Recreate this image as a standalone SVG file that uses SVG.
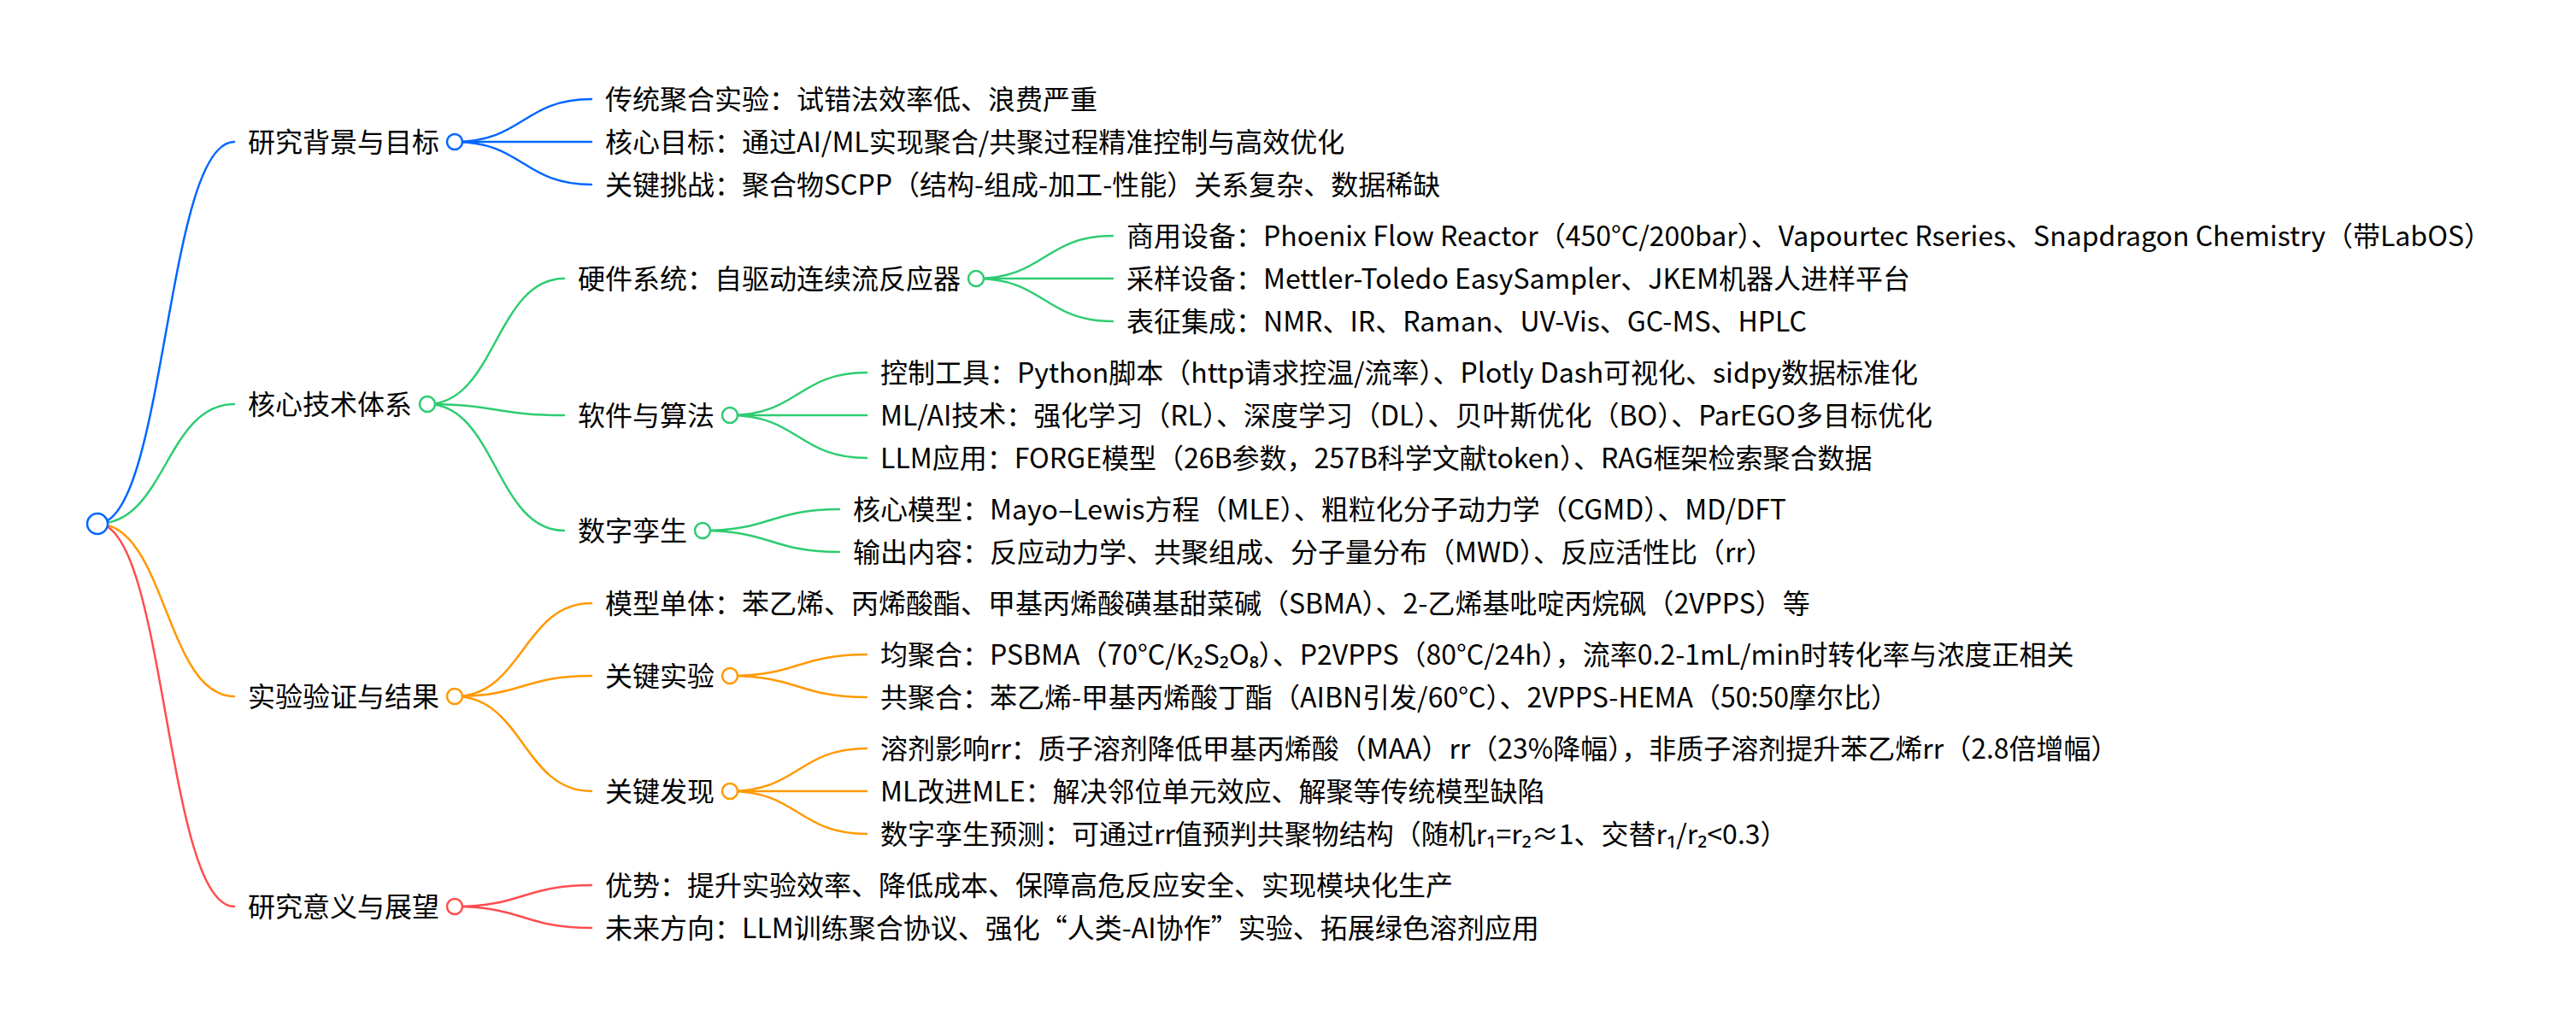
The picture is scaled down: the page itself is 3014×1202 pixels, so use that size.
<svg xmlns="http://www.w3.org/2000/svg" width="3014" height="1202" viewBox="0 0 3014 1202">
<style>
text{font-family:"Noto Sans CJK SC","Noto Sans",sans-serif;font-size:32px;fill:#000}
.l{fill:none;stroke-width:2.5;stroke-linecap:round}
.b{stroke:#0066ff}.g{stroke:#2ecc71}.o{stroke:#ff9900}.r{stroke:#ff4d4f}
circle{fill:#fff;stroke-width:2.5}
</style>
<rect width="3014" height="1202" fill="#fff"/>
<g id="connectors">
<path class="l b" d="M114 613C194 613 194 166 274 166"/>
<path class="l g" d="M114 613C194 613 194 473 274 473"/>
<path class="l o" d="M114 613C194 613 194 815 274 815"/>
<path class="l r" d="M114 613C194 613 194 1061 274 1061"/>
<path class="l b" d="M532 166C612 166 612 116 692 116"/>
<path class="l b" d="M532 166C612 166 612 166 692 166"/>
<path class="l b" d="M532 166C612 166 612 216 692 216"/>
<path class="l g" d="M500 473C580 473 580 326 660 326"/>
<path class="l g" d="M500 473C580 473 580 486 660 486"/>
<path class="l g" d="M500 473C580 473 580 621 660 621"/>
<path class="l g" d="M1142 326C1222 326 1222 276 1302 276"/>
<path class="l g" d="M1142 326C1222 326 1222 326 1302 326"/>
<path class="l g" d="M1142 326C1222 326 1222 376 1302 376"/>
<path class="l g" d="M854 486C934 486 934 436 1014 436"/>
<path class="l g" d="M854 486C934 486 934 486 1014 486"/>
<path class="l g" d="M854 486C934 486 934 536 1014 536"/>
<path class="l g" d="M822 621C902 621 902 596 982 596"/>
<path class="l g" d="M822 621C902 621 902 646 982 646"/>
<path class="l o" d="M532 815C612 815 612 706 692 706"/>
<path class="l o" d="M532 815C612 815 612 791 692 791"/>
<path class="l o" d="M532 815C612 815 612 926 692 926"/>
<path class="l o" d="M854 791C934 791 934 766 1014 766"/>
<path class="l o" d="M854 791C934 791 934 816 1014 816"/>
<path class="l o" d="M854 926C934 926 934 876 1014 876"/>
<path class="l o" d="M854 926C934 926 934 926 1014 926"/>
<path class="l o" d="M854 926C934 926 934 976 1014 976"/>
<path class="l r" d="M532 1061C612 1061 612 1036 692 1036"/>
<path class="l r" d="M532 1061C612 1061 612 1086 692 1086"/>
</g>
<g id="root"><circle cx="114" cy="613" r="12" stroke="#0066ff" stroke-width="3"/></g>
<g id="n1"><text x="290" y="178">研究背景与目标</text><circle cx="532" cy="166" r="9" stroke="#0066ff"/></g>
<g id="n1a"><text x="708" y="128">传统聚合实验：试错法效率低、浪费严重</text></g>
<g id="n1b"><text x="708" y="178">核心目标：通过AI/ML实现聚合/共聚过程精准控制与高效优化</text></g>
<g id="n1c"><text x="708" y="228">关键挑战：聚合物SCPP（结构-组成-加工-性能）关系复杂、数据稀缺</text></g>
<g id="n2"><text x="290" y="485">核心技术体系</text><circle cx="500" cy="473" r="9" stroke="#2ecc71"/></g>
<g id="n2a"><text x="676" y="338">硬件系统：自驱动连续流反应器</text><circle cx="1142" cy="326" r="9" stroke="#2ecc71"/></g>
<g id="n2a1"><text x="1318" y="288">商用设备：Phoenix Flow Reactor（450°C/200bar）、Vapourtec Rseries、Snapdragon Chemistry（带LabOS）</text></g>
<g id="n2a2"><text x="1318" y="338">采样设备：Mettler-Toledo EasySampler、JKEM机器人进样平台</text></g>
<g id="n2a3"><text x="1318" y="388">表征集成：NMR、IR、Raman、UV-Vis、GC-MS、HPLC</text></g>
<g id="n2b"><text x="676" y="498">软件与算法</text><circle cx="854" cy="486" r="9" stroke="#2ecc71"/></g>
<g id="n2b1"><text x="1030" y="448">控制工具：Python脚本（http请求控温/流率）、Plotly Dash可视化、sidpy数据标准化</text></g>
<g id="n2b2"><text x="1030" y="498">ML/AI技术：强化学习（RL）、深度学习（DL）、贝叶斯优化（BO）、ParEGO多目标优化</text></g>
<g id="n2b3"><text x="1030" y="548">LLM应用：FORGE模型（26B参数，257B科学文献token）、RAG框架检索聚合数据</text></g>
<g id="n2c"><text x="676" y="633">数字孪生</text><circle cx="822" cy="621" r="9" stroke="#2ecc71"/></g>
<g id="n2c1"><text x="998" y="608">核心模型：Mayo–Lewis方程（MLE）、粗粒化分子动力学（CGMD）、MD/DFT</text></g>
<g id="n2c2"><text x="998" y="658">输出内容：反应动力学、共聚组成、分子量分布（MWD）、反应活性比（rr）</text></g>
<g id="n3"><text x="290" y="827">实验验证与结果</text><circle cx="532" cy="815" r="9" stroke="#ff9900"/></g>
<g id="n3a"><text x="708" y="718">模型单体：苯乙烯、丙烯酸酯、甲基丙烯酸磺基甜菜碱（SBMA）、2-乙烯基吡啶丙烷砜（2VPPS）等</text></g>
<g id="n3b"><text x="708" y="803">关键实验</text><circle cx="854" cy="791" r="9" stroke="#ff9900"/></g>
<g id="n3b1"><text x="1030" y="778">均聚合：PSBMA（70°C/K₂S₂O₈）、P2VPPS（80°C/24h），流率0.2-1mL/min时转化率与浓度正相关</text></g>
<g id="n3b2"><text x="1030" y="828">共聚合：苯乙烯-甲基丙烯酸丁酯（AIBN引发/60°C）、2VPPS-HEMA（50:50摩尔比）</text></g>
<g id="n3c"><text x="708" y="938">关键发现</text><circle cx="854" cy="926" r="9" stroke="#ff9900"/></g>
<g id="n3c1"><text x="1030" y="888">溶剂影响rr：质子溶剂降低甲基丙烯酸（MAA）rr（23%降幅），非质子溶剂提升苯乙烯rr（2.8倍增幅）</text></g>
<g id="n3c2"><text x="1030" y="938">ML改进MLE：解决邻位单元效应、解聚等传统模型缺陷</text></g>
<g id="n3c3"><text x="1030" y="988">数字孪生预测：可通过rr值预判共聚物结构（随机r₁=r₂≈1、交替r₁/r₂&lt;0.3）</text></g>
<g id="n4"><text x="290" y="1073">研究意义与展望</text><circle cx="532" cy="1061" r="9" stroke="#ff4d4f"/></g>
<g id="n4a"><text x="708" y="1048">优势：提升实验效率、降低成本、保障高危反应安全、实现模块化生产</text></g>
<g id="n4b"><text x="708" y="1098">未来方向：LLM训练聚合协议、强化“人类-AI协作”实验、拓展绿色溶剂应用</text></g>
</svg>
